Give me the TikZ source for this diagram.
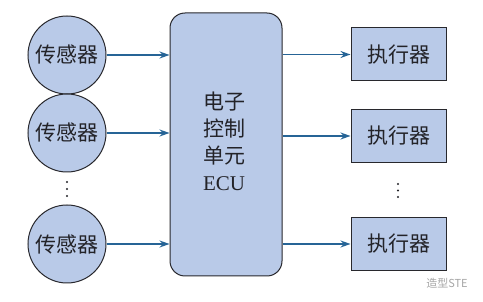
\documentclass[tikz,border=0pt]{standalone}
\usepackage{fontspec}
\newfontfamily\cjk{Noto Sans CJK SC}
\setmainfont{Liberation Serif}
\usetikzlibrary{arrows.meta}
\definecolor{boxfill}{RGB}{185,202,232}
\definecolor{arrowc}{RGB}{38,100,150}
\definecolor{edgec}{RGB}{40,40,45}
\definecolor{textc}{RGB}{35,35,40}
\begin{document}
\begin{tikzpicture}[x=1pt,y=-1pt,
  sensor/.style={circle,draw=edgec,line width=1pt,fill=boxfill,minimum size=78pt,inner sep=0pt,text=textc,font=\cjk\fontsize{21}{24}\selectfont},
  actuator/.style={rectangle,draw=edgec,line width=1pt,fill=boxfill,minimum width=95pt,minimum height=53pt,inner sep=0pt,text=textc,font=\cjk\fontsize{21}{24}\selectfont},
  ecubox/.style={rectangle,rounded corners=15pt,draw=edgec,line width=1pt,fill=boxfill,minimum width=112pt,minimum height=263pt,inner sep=0pt},
  link/.style={draw=arrowc,line width=1.8pt,-{Stealth[length=10pt,width=7pt]}},
  dotmark/.style={fill=textc}
]
\useasboundingbox (0,0) rectangle (483,302);
\fill[white] (0,0) rectangle (483,302);
% sensors
\node[sensor] (s1) at (67,55) {传感器};
\node[sensor] (s2) at (67,133) {传感器};
\node[sensor] (s3) at (67,244) {传感器};
\fill[dotmark] (67,182) circle (1.1pt) (67,189) circle (1.1pt) (67,196) circle (1.1pt);
% ECU
\node[ecubox] (ecu) at (226,144.5) {};
\node[align=center,text=textc,font=\cjk\fontsize{21}{27}\selectfont] (ecut) at (224,141)
  {电子\\控制\\单元\\{\rmfamily ECU}};
% actuators
\node[actuator] (a1) at (398.5,54.5) {执行器};
\node[actuator] (a2) at (398.5,136) {执行器};
\node[actuator] (a3) at (398.5,244) {执行器};
\fill[dotmark] (398,184) circle (1.1pt) (398,190.5) circle (1.1pt) (398,197) circle (1.1pt);
% connectors
\coordinate (e1) at (ecu.west |- s1);
\coordinate (e2) at (ecu.west |- s2);
\coordinate (e3) at (ecu.west |- s3);
\draw[link] (s1.east) -- (e1);
\draw[link] (s2.east) -- (e2);
\draw[link] (s3.east) -- (e3);
\coordinate (f1) at (ecu.east |- a1);
\coordinate (f2) at (ecu.east |- a2);
\coordinate (f3) at (ecu.east |- a3);
\draw[link] (f1) -- (a1.west);
\draw[link] (f2) -- (a2.west);
\draw[link] (f3) -- (a3.west);
% watermark
\node[text=gray!70,font=\cjk\fontsize{11}{12}\selectfont] (wm) at (447,283) {造型STE};
\end{tikzpicture}
\end{document}
